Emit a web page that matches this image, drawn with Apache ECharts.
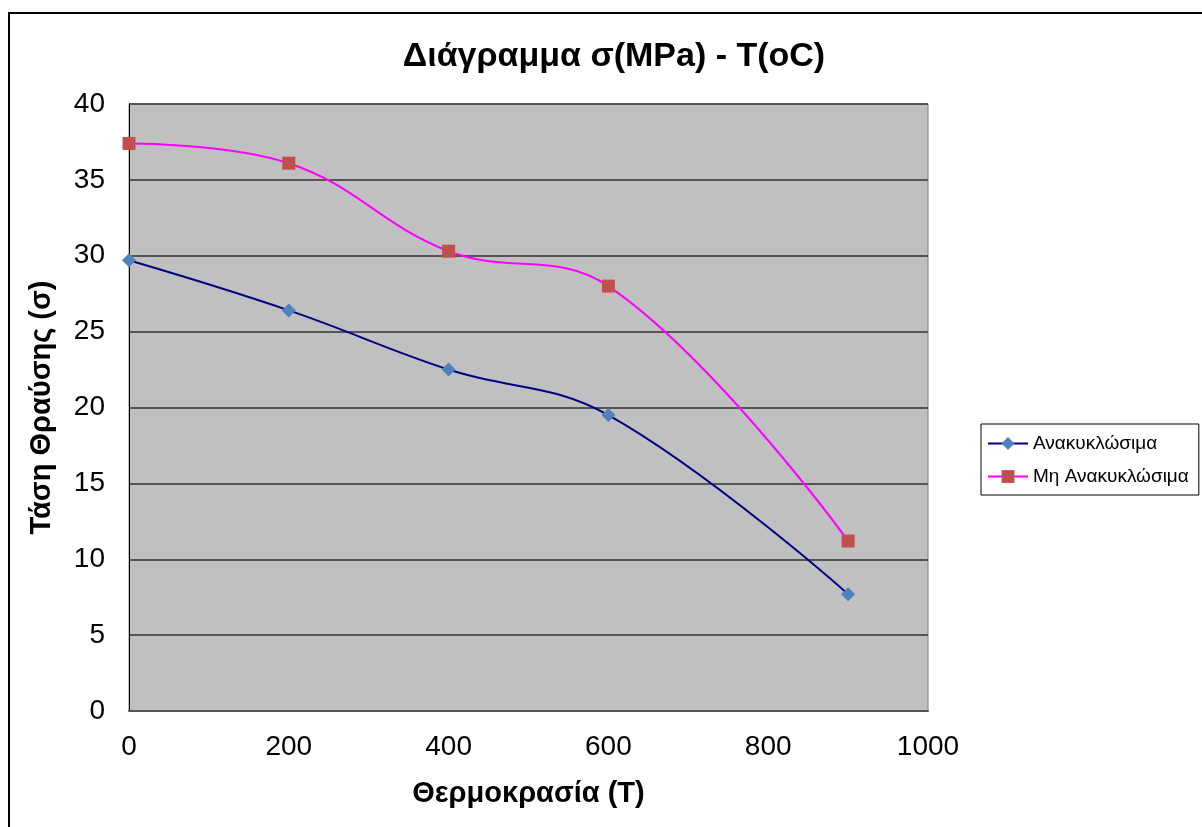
<!DOCTYPE html>
<html>
<head>
<meta charset="utf-8">
<script src="https://cdn.jsdelivr.net/npm/echarts@6/dist/echarts.min.js"></script>
<style>
  html, body { margin: 0; padding: 0; background: #fff; }
  #chart { width: 1202px; height: 827px; }
</style>
</head>
<body>
<div id="chart"></div>
<script>
// temperatures (oC)
const temps = [0, 200, 400, 600, 900];
// stress values (MPa)
const recyclable = [29.7, 26.4, 22.5, 19.5, 7.7];
const nonRecyclable = [37.4, 36.1, 30.3, 28.0, 11.2];
const seriesNames = ['Ανακυκλώσιμα', 'Μη Ανακυκλώσιμα'];

const font = "'Liberation Sans', Arial, sans-serif";

function pairs(xs, ys) {
  return xs.map((x, i) => [x, ys[i]]);
}

const chart = echarts.init(document.getElementById('chart'));

chart.setOption({
  animation: false,
  backgroundColor: '#fff',
  textStyle: {fontFamily: font},
  title: {
    text: 'Διάγραμμα σ(MPa) - T(oC)',
    left: 609,
    textAlign: 'center',
    top: 35,
    textStyle: {fontSize: 34, fontWeight: 'bold', color: '#000', fontFamily: font},
  },
  graphic: [{
    type: 'rect',
    shape: {x: 9, y: 13, width: 1300, height: 900},
    style: {fill: 'none', stroke: '#000', lineWidth: 2},
    silent: true,
  }],
  legend: {
    orient: 'vertical',
    left: 981,
    top: 424,
    padding: [10, 10, 9, 6],
    itemGap: 14,
    itemWidth: 40,
    itemHeight: 16,
    borderColor: '#000',
    borderWidth: 1,
    textStyle: {fontSize: 19, color: '#000', fontFamily: font},
    data: seriesNames,
  },
  grid: {
    left: 129,
    right: 1202 - 928,
    top: 104,
    bottom: 827 - 711,
    show: true,
    backgroundColor: '#c0c0c0',
    borderColor: '#808080',
    borderWidth: 1,
  },
  xAxis: {
    type: 'value',
    min: 0,
    max: 1000,
    interval: 200,
    name: 'Θερμοκρασία (Τ)',
    nameLocation: 'middle',
    nameGap: 68,
    nameTextStyle: {fontSize: 29, fontWeight: 'bold', color: '#000', fontFamily: font},
    axisLine: {lineStyle: {color: '#555', width: 2}},
    axisTick: {show: false},
    splitLine: {show: false},
    axisLabel: {fontSize: 28, color: '#000', margin: 22, fontFamily: font,
      formatter: (v) => String(v)},
  },
  yAxis: {
    type: 'value',
    min: 0,
    max: 40,
    interval: 5,
    name: 'Τάση Θραύσης (σ)',
    nameLocation: 'middle',
    nameGap: 73,
    nameTextStyle: {fontSize: 29, fontWeight: 'bold', color: '#000', fontFamily: font},
    axisLine: {show: true, lineStyle: {color: '#000', width: 1}},
    axisTick: {show: false},
    splitLine: {lineStyle: {color: '#555', width: 2}},
    axisLabel: {fontSize: 28, color: '#000', margin: 24, fontFamily: font},
  },
  series: [
    {
      name: seriesNames[0],
      type: 'line',
      smooth: 0.4,
      data: pairs(temps, recyclable),
      symbol: 'diamond',
      symbolSize: 14,
      lineStyle: {color: '#000080', width: 2},
      itemStyle: {color: '#4f81bd'},
    },
    {
      name: seriesNames[1],
      type: 'line',
      smooth: 0.4,
      data: pairs(temps, nonRecyclable),
      symbol: 'rect',
      symbolSize: 13,
      lineStyle: {color: '#ff00ff', width: 2},
      itemStyle: {color: '#c0504d'},
    },
  ],
});
</script>
</body>
</html>
